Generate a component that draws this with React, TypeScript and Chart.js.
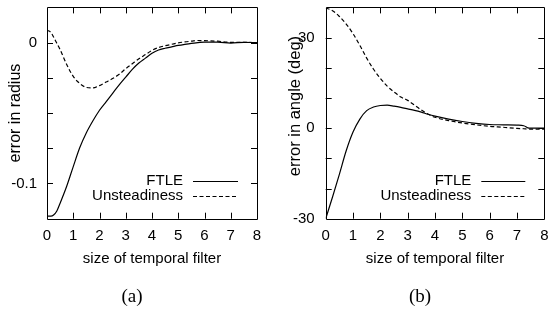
import React, { useEffect, useRef } from "react";
import { Chart, registerables } from "chart.js";

Chart.register(...registerables);

// ---------- data ----------
const seriesNames = ["FTLE", "Unsteadiness"];
const xTitle = "size of temporal filter";
const xTickValues = [0, 1, 2, 3, 4, 5, 6, 7, 8];

// (a) error in radius
const radiusX = [0, 0.15, 0.25, 0.375, 0.5, 0.75, 1.0, 1.25, 1.5, 1.75, 2.0, 2.25, 2.5, 2.75, 3.0, 3.25, 3.5, 3.75, 4.0, 4.25, 4.5, 4.75, 5.0, 5.25, 5.5, 5.75, 6.0, 6.5, 7.0, 7.5, 8.0];
const radiusFTLE = [-0.1232, -0.1232, -0.1224, -0.1195, -0.114, -0.102, -0.088, -0.0745, -0.064, -0.0555, -0.048, -0.042, -0.036, -0.030, -0.0245, -0.019, -0.0145, -0.011, -0.0075, -0.0052, -0.004, -0.003, -0.002, -0.0012, -0.0005, 0.0, 0.0004, 0.0004, -0.0003, 0.0002, 0.0];
const radiusUnsteady = [0.0088, 0.0072, 0.004, -0.0005, -0.005, -0.0155, -0.024, -0.029, -0.0318, -0.0322, -0.0305, -0.028, -0.0255, -0.0225, -0.0185, -0.015, -0.0115, -0.0085, -0.0055, -0.0035, -0.0022, -0.0012, -0.0002, 0.0005, 0.001, 0.0015, 0.0014, 0.001, 0.0002, 0.0002, 0.0];
const radiusTickLabels = [0, -0.1];
const radiusTitle = "error in radius";

// (b) error in angle
const angleX = [0, 0.25, 0.5, 0.75, 1.0, 1.25, 1.5, 1.75, 2.0, 2.25, 2.5, 2.75, 3.0, 3.25, 3.5, 3.75, 4.0, 4.5, 5.0, 5.5, 6.0, 6.5, 7.0, 7.25, 7.4, 7.5, 8.0];
const angleFTLE = [-30, -22.8, -15.3, -7.5, -1.3, 3.0, 5.8, 7.0, 7.5, 7.6, 7.3, 6.9, 6.4, 5.9, 5.3, 4.6, 4.0, 3.0, 2.2, 1.6, 1.2, 1.1, 1.0, 0.8, 0.1, 0.0, 0.0];
const angleUnsteady = [39.8, 38.9, 37.0, 34.5, 31.3, 27.4, 23.2, 19.5, 16.5, 13.9, 12.0, 10.3, 9.2, 7.6, 6.0, 4.6, 3.6, 2.5, 1.7, 1.1, 0.6, 0.3, -0.1, -0.2, -0.3, -0.3, -0.3];
const angleTickLabels = [-30, 0, 30];
const angleTitle = "error in angle (deg)";

// ---------- chart helpers ----------
const SANS = "'Liberation Sans', Arial, Helvetica, sans-serif";
const DASH = [4, 2.5];

const framePlugin = {
  id: "frame",
  afterDraw(chart: any, _args: any, opts: any) {
    const { ctx, chartArea } = chart;
    const { left, right, top, bottom } = chartArea;
    const xs = chart.scales.x;
    const ys = chart.scales.y;
    const tl = 6;
    ctx.save();
    ctx.strokeStyle = "#000";
    ctx.lineWidth = 1;
    ctx.setLineDash([]);
    ctx.beginPath();
    ctx.rect(Math.round(left) + 0.5, Math.round(top) + 0.5, Math.round(right) - Math.round(left), Math.round(bottom) - Math.round(top));
    ctx.stroke();
    const nx = Math.round((xs.max - xs.min) / opts.xStep);
    ctx.beginPath();
    for (let i = 1; i < nx; i++) {
      const px = Math.round(xs.getPixelForValue(xs.min + i * opts.xStep)) + 0.5;
      ctx.moveTo(px, bottom);
      ctx.lineTo(px, bottom - tl);
      ctx.moveTo(px, top);
      ctx.lineTo(px, top + tl);
    }
    const ny = Math.round((ys.max - ys.min) / opts.yStep);
    for (let i = 1; i < ny; i++) {
      const py = Math.round(ys.getPixelForValue(ys.min + i * opts.yStep)) + 0.5;
      ctx.moveTo(left, py);
      ctx.lineTo(left + tl, py);
      ctx.moveTo(right, py);
      ctx.lineTo(right - tl, py);
    }
    ctx.stroke();

    // y axis title
    ctx.save();
    ctx.fillStyle = "#000";
    ctx.font = `${opts.yTitleSize}px ${SANS}`;
    ctx.textAlign = "center";
    ctx.textBaseline = "middle";
    ctx.translate(opts.yTitleX, (top + bottom) / 2 + opts.yTitleShift);
    ctx.rotate(-Math.PI / 2);
    ctx.fillText(opts.yTitle, 0, 0);
    ctx.restore();

    // legend
    ctx.font = `15px ${SANS}`;
    ctx.fillStyle = "#000";
    ctx.textAlign = "right";
    ctx.textBaseline = "middle";
    chart.data.datasets.forEach((ds: any, i: number) => {
      const y = bottom - 37.5 + i * 15;
      ctx.fillText(ds.label, right - opts.legendTextGap, y);
      ctx.beginPath();
      ctx.setLineDash(ds.borderDash || []);
      ctx.lineWidth = ds.borderWidth;
      ctx.moveTo(right - opts.legendLineStart, Math.round(y) + 0.5);
      ctx.lineTo(right - 19, Math.round(y) + 0.5);
      ctx.stroke();
    });
    ctx.restore();
  },
};

function makeConfig(p: any) {
  return {
    type: "line",
    data: {
      datasets: [
        {
          label: seriesNames[0],
          data: p.xs.map((x: number, i: number) => ({ x, y: p.s1[i] })),
          borderColor: "#000",
          borderWidth: 1.2,
          pointRadius: 0,
          cubicInterpolationMode: "monotone",
          fill: false,
        },
        {
          label: seriesNames[1],
          data: p.xs.map((x: number, i: number) => ({ x, y: p.s2[i] })),
          borderColor: "#000",
          borderWidth: 1.2,
          borderDash: DASH,
          pointRadius: 0,
          cubicInterpolationMode: "monotone",
          fill: false,
        },
      ],
    },
    options: {
      responsive: false,
      animation: false,
      events: [],
      layout: { padding: { top: 7.4, right: p.padRight, left: 0, bottom: 0 } },
      plugins: {
        legend: { display: false },
        tooltip: { enabled: false },
        frame: {
          xStep: 1,
          yStep: p.yStep,
          legendTextGap: p.legendTextGap,
          legendLineStart: p.legendLineStart,
          yTitle: p.yTitle,
          yTitleSize: p.yTitleSize,
          yTitleX: p.yTitleX,
          yTitleShift: p.yTitleShift,
        },
      },
      scales: {
        x: {
          type: "linear",
          min: 0,
          max: 8,
          afterBuildTicks: (axis: any) => {
            axis.ticks = xTickValues.map((v) => ({ value: v }));
          },
          afterFit: (s: any) => {
            s.height = 95.3;
            s.paddingLeft = 0;
            s.paddingRight = 0;
            s.paddingTop = 0;
            s.paddingBottom = 0;
          },
          grid: { display: false, drawTicks: false },
          border: { display: false },
          ticks: {
            color: "#000",
            font: { size: 15, family: SANS },
            padding: 8,
            maxRotation: 0,
            autoSkip: false,
            callback: (v: any) => String(v),
          },
          title: {
            display: true,
            text: xTitle,
            color: "#000",
            font: { size: 15, family: SANS },
            padding: { top: 0, bottom: 46 },
          },
        },
        y: {
          type: "linear",
          min: p.yMin,
          max: p.yMax,
          afterBuildTicks: (axis: any) => {
            axis.ticks = p.yLabels.map((v: number) => ({ value: v }));
          },
          afterFit: (s: any) => {
            s.width = p.axisWidth;
            s.paddingLeft = 0;
            s.paddingRight = 0;
            s.paddingTop = 0;
            s.paddingBottom = 0;
          },
          grid: { display: false, drawTicks: false },
          border: { display: false },
          ticks: {
            color: "#000",
            font: { size: 15, family: SANS },
            padding: p.yLabelPad,
            autoSkip: false,
            callback: (v: any) => String(v),
          },
          title: { display: false },
        },
      },
    },
    plugins: [framePlugin],
  };
}

function Panel({ config, left }: { config: any; left: number }) {
  const ref = useRef<HTMLCanvasElement>(null);
  useEffect(() => {
    const chart = new Chart(ref.current as HTMLCanvasElement, config);
    return () => chart.destroy();
  }, []);
  return (
    <canvas
      ref={ref}
      width={275}
      height={314}
      style={{ position: "absolute", left, top: 0, width: 275, height: 314 }}
    />
  );
}

const captionStyle = (cx: number): React.CSSProperties => ({
  position: "absolute",
  left: cx - 40,
  width: 80,
  top: 286,
  textAlign: "center",
  fontFamily: "'Liberation Serif', 'Times New Roman', serif",
  fontSize: 19,
  lineHeight: "20px",
  color: "#000",
});

export default function App() {
  const cfgA = makeConfig({
    xs: radiusX,
    s1: radiusFTLE,
    s2: radiusUnsteady,
    yMin: -0.125,
    yMax: 0.025,
    yStep: 0.025,
    yLabels: radiusTickLabels,
    yTitle: radiusTitle,
    yTitleSize: 16,
    yTitleX: 15.5,
    yTitleShift: 0,
    axisWidth: 47,
    padRight: 18,
    yLabelPad: 10,
    legendTextGap: 74,
    legendLineStart: 64,
  });
  const cfgB = makeConfig({
    xs: angleX,
    s1: angleFTLE,
    s2: angleUnsteady,
    yMin: -30,
    yMax: 40,
    yStep: 10,
    yLabels: angleTickLabels,
    yTitle: angleTitle,
    yTitleSize: 16.5,
    yTitleX: 20.5,
    yTitleShift: -7,
    axisWidth: 50.7,
    padRight: 5.7,
    yLabelPad: 11,
    legendTextGap: 73,
    legendLineStart: 63,
  });
  return (
    <div style={{ position: "absolute", left: 0, top: 0, width: 550, height: 314, background: "#fff", overflow: "hidden" }}>
      <Panel config={cfgA} left={0} />
      <Panel config={cfgB} left={275} />
      <div style={captionStyle(132)}>(a)</div>
      <div style={captionStyle(420)}>(b)</div>
    </div>
  );
}
